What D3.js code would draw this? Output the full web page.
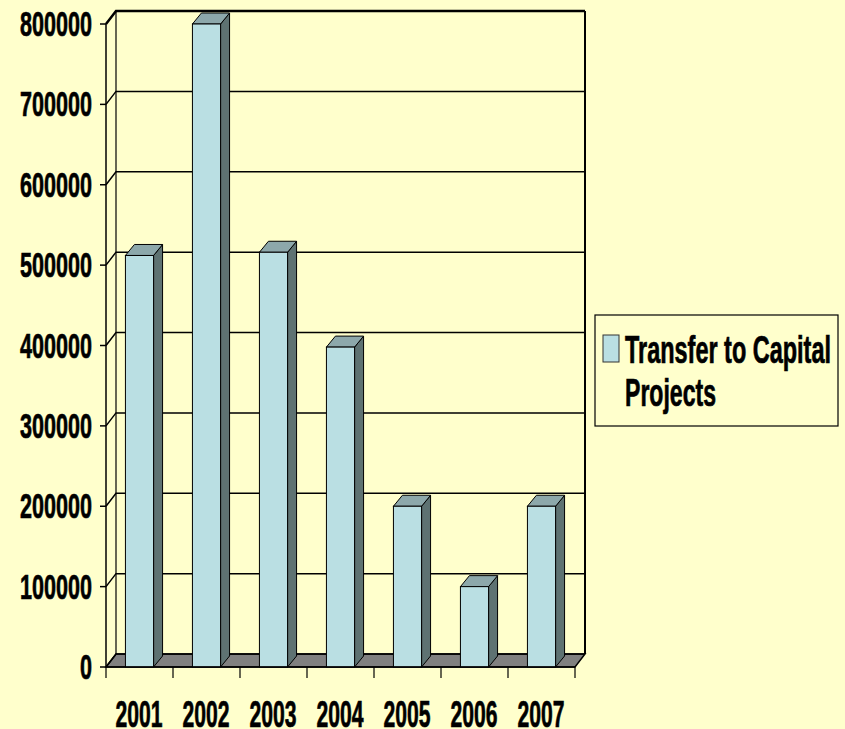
<!DOCTYPE html>
<html>
<head>
<meta charset="utf-8">
<script src="https://cdn.jsdelivr.net/npm/d3@7"></script>
<style>
  html, body { margin: 0; padding: 0; background: #FFFFCC; }
  text { font-family: "Liberation Sans Narrow", "Arial Narrow", "Liberation Sans", Arial, sans-serif; font-weight: bold; fill: #000; stroke: #000; stroke-width: 0.7px; }
</style>
</head>
<body>
<div id="graph"></div>
<script>
var years = ["2001", "2002", "2003", "2004", "2005", "2006", "2007"];
var values = [512000, 800000, 516000, 398000, 200000, 100000, 200000];
var yTicks = [0, 100000, 200000, 300000, 400000, 500000, 600000, 700000, 800000];
var seriesName = ["Transfer to Capital", "Projects"];

var width = 845, height = 729;
// 3d offsets: wall depth and bar depth
var wx = 10, wy = -13;
var bx = 9, by = -11;

var frontCol = "#BADFE3", sideCol = "#5E7272", topCol = "#8DA8AB";

var svg = d3.select("#graph").append("svg")
    .attr("width", width).attr("height", height)
    .style("display", "block");

svg.append("rect").attr("width", width).attr("height", height).attr("fill", "#FFFFCC");

var x = d3.scaleBand().domain(years).range([106, 575]);
var y = d3.scaleLinear().domain([0, 800000]).range([667, 24]);

var walls = svg.append("g").attr("class", "walls");

// floor
var fy = y(0);
walls.append("path")
    .attr("d", "M" + x.range()[0] + "," + fy + "L" + x.range()[1] + "," + fy +
      "L" + (x.range()[1] + wx) + "," + (fy + wy) + "L" + (x.range()[0] + wx) + "," + (fy + wy) + "Z")
    .attr("fill", "#808080").attr("stroke", "#000").attr("stroke-width", 1.5);

// gridlines on side wall + back wall
yTicks.forEach(function(t) {
  var yy = y(t);
  walls.append("path")
      .attr("d", "M" + x.range()[0] + "," + yy + "L" + (x.range()[0] + wx) + "," + (yy + wy) +
        "L" + (x.range()[1] + wx) + "," + (yy + wy))
      .attr("fill", "none").attr("stroke", "#000").attr("stroke-width", t == 800000 ? 2.5 : 1.5);
});

// side wall back edge and back wall right edge
walls.append("line")
    .attr("x1", x.range()[0] + wx).attr("y1", y(800000) + wy)
    .attr("x2", x.range()[0] + wx).attr("y2", y(0) + wy)
    .attr("stroke", "#000").attr("stroke-width", 1.2);
walls.append("line")
    .attr("x1", x.range()[1] + wx).attr("y1", y(800000) + wy)
    .attr("x2", x.range()[1] + wx).attr("y2", y(0) + wy)
    .attr("stroke", "#000").attr("stroke-width", 2);

// y axis (front edge)
var yAxis = svg.append("g").attr("class", "y-axis");
yAxis.append("line")
    .attr("x1", x.range()[0]).attr("y1", y(800000))
    .attr("x2", x.range()[0]).attr("y2", y(0))
    .attr("stroke", "#000").attr("stroke-width", 1.5);
yTicks.forEach(function(t) {
  yAxis.append("line")
      .attr("x1", x.range()[0] - 6).attr("x2", x.range()[0])
      .attr("y1", y(t)).attr("y2", y(t))
      .attr("stroke", "#000").attr("stroke-width", 1.5);
  var lbl = String(t);
  yAxis.append("text")
      .attr("x", 92).attr("y", y(t) + 12)
      .attr("text-anchor", "end")
      .attr("font-size", 35)
      .attr("textLength", lbl.length * 12)
      .attr("lengthAdjust", "spacingAndGlyphs")
      .text(lbl);
});

// bars
var bw = x.bandwidth() * 0.42, boff = x.bandwidth() * 0.29;
var bars = svg.append("g").attr("class", "bars")
  .selectAll("g").data(years).enter().append("g");

bars.each(function(d, i) {
  var g = d3.select(this);
  var x0 = x(d) + boff, x1 = x0 + bw;
  var yt = y(values[i]), yb = y(0);
  // side
  g.append("path")
      .attr("d", "M" + x1 + "," + yb + "L" + x1 + "," + yt + "L" + (x1 + bx) + "," + (yt + by) +
        "L" + (x1 + bx) + "," + (yb + by) + "Z")
      .attr("fill", sideCol).attr("stroke", "#000").attr("stroke-width", 1);
  // top
  g.append("path")
      .attr("d", "M" + x0 + "," + yt + "L" + x1 + "," + yt + "L" + (x1 + bx) + "," + (yt + by) +
        "L" + (x0 + bx) + "," + (yt + by) + "Z")
      .attr("fill", topCol).attr("stroke", "#000").attr("stroke-width", 1);
  // front
  g.append("rect")
      .attr("x", x0).attr("y", yt).attr("width", bw).attr("height", yb - yt)
      .attr("fill", frontCol).attr("stroke", "#000").attr("stroke-width", 1);
});

// x axis
var xAxis = svg.append("g").attr("class", "x-axis");
xAxis.append("line")
    .attr("x1", x.range()[0]).attr("x2", x.range()[1])
    .attr("y1", y(0)).attr("y2", y(0))
    .attr("stroke", "#000").attr("stroke-width", 1.5);
years.concat(["end"]).forEach(function(d, i) {
  var xx = i < years.length ? x(d) : x.range()[1];
  xAxis.append("line")
      .attr("x1", xx).attr("x2", xx)
      .attr("y1", y(0)).attr("y2", y(0) + 11)
      .attr("stroke", "#000").attr("stroke-width", 1.2);
});
years.forEach(function(d) {
  xAxis.append("text")
      .attr("x", x(d) + x.bandwidth() / 2 - 0.5).attr("y", 727)
      .attr("text-anchor", "middle")
      .attr("font-size", 37)
      .attr("textLength", 47)
      .attr("lengthAdjust", "spacingAndGlyphs")
      .text(d);
});

// legend
var legend = svg.append("g").attr("class", "legend");
legend.append("rect")
    .attr("x", 595).attr("y", 315).attr("width", 243).attr("height", 111)
    .attr("fill", "#FFFFCC").attr("stroke", "#000").attr("stroke-width", 1.2);
legend.append("rect")
    .attr("x", 603).attr("y", 335).attr("width", 16).attr("height", 27)
    .attr("fill", frontCol).attr("stroke", "#333").attr("stroke-width", 1);
legend.append("text")
    .attr("x", 625).attr("y", 363)
    .attr("font-size", 38)
    .attr("textLength", 206)
    .attr("lengthAdjust", "spacingAndGlyphs")
    .text(seriesName[0]);
legend.append("text")
    .attr("x", 625).attr("y", 406)
    .attr("font-size", 38)
    .attr("textLength", 91)
    .attr("lengthAdjust", "spacingAndGlyphs")
    .text(seriesName[1]);
</script>
</body>
</html>
